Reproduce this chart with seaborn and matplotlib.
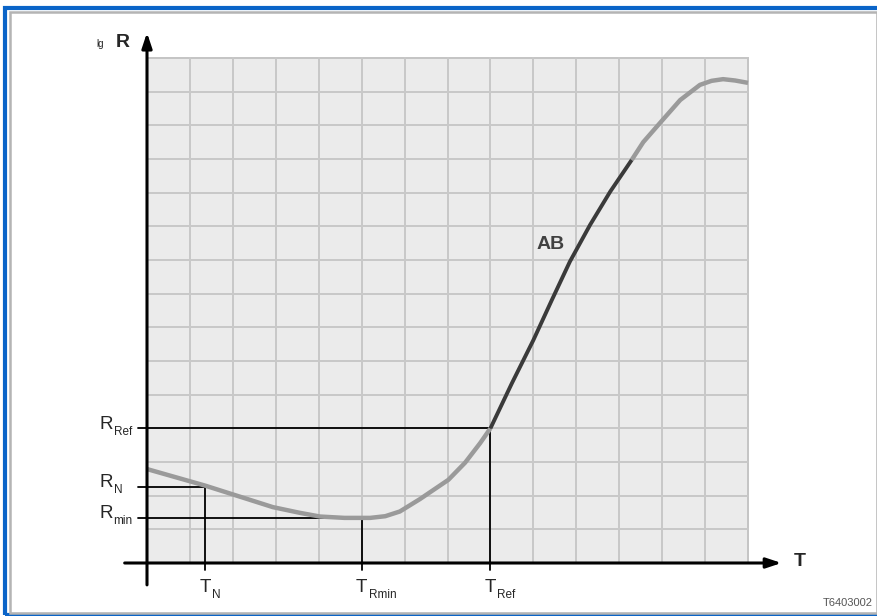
import matplotlib
matplotlib.use("Agg")
import matplotlib.pyplot as plt
import numpy as np
import pandas as pd
import seaborn as sns
from matplotlib import font_manager
from matplotlib.patches import Rectangle

# characteristic curve lg R over T (grid units)
T_low = [0.0, 1.35, 2.93, 3.56, 4.03, 4.6, 5.2, 5.55, 5.89, 6.36, 7.02, 7.41, 7.76, 8.0]
R_low = [2.79, 2.3, 1.66, 1.49, 1.38, 1.34, 1.34, 1.39, 1.53, 1.9, 2.47, 2.98, 3.56, 4.0]
T_ab = [8.0, 8.5, 9.0, 9.43, 9.85, 10.32, 10.79, 11.29]
R_ab = [4.0, 5.34, 6.62, 7.81, 8.95, 10.04, 11.03, 11.97]
T_high = [11.29, 11.56, 11.95, 12.42, 12.88, 13.15, 13.42, 13.7, 14.0]
R_high = [11.97, 12.5, 13.07, 13.75, 14.2, 14.32, 14.37, 14.33, 14.26]

# marked reference points
T_marks = [1.35, 5.0, 8.0]
R_marks = [2.26, 1.34, 4.0]
T_subs = ["N", "Rmin", "Ref"]
R_subs = ["N", "min", "Ref"]

n_cols, n_rows = 14, 15

sns.set_style("white")
names = {f.name for f in font_manager.fontManager.ttflist}
narrow = "Liberation Sans Narrow" if "Liberation Sans Narrow" in names else "Liberation Sans"
plt.rcParams["font.family"] = [narrow, "DejaVu Sans"]

fig = plt.figure(figsize=(8.78, 6.16), dpi=100)
ax = fig.add_axes([0, 0, 1, 1])

# pixel -> data mapping of the original drawing
px_x0, px_unit_x = 147, 42.93
px_y0, px_unit_y = 563, 33.67
xlim = (-px_x0 / px_unit_x, (878 - px_x0) / px_unit_x)
ylim = ((px_y0 - 616) / px_unit_y, px_y0 / px_unit_y)

# grid background
ax.add_patch(Rectangle((0, 0), n_cols, n_rows, facecolor="#ebebeb",
                       edgecolor="#c4c4c4", lw=1.4, zorder=0))
for i in range(1, n_cols):
    ax.plot([i, i], [0, n_rows], color="#c8c8c8", lw=1.4, zorder=1)
for j in range(1, n_rows):
    ax.plot([0, n_cols], [j, j], color="#c8c8c8", lw=1.4, zorder=1)

# reference lines
for t, r in zip(T_marks, R_marks):
    ax.plot([-0.2, t], [r, r], color="black", lw=1.3, zorder=2)
    ax.plot([t, t], [r, -0.2], color="black", lw=1.3, zorder=2)

# curve
low = pd.DataFrame({"T": T_low, "R": R_low})
ab = pd.DataFrame({"T": T_ab, "R": R_ab})
high = pd.DataFrame({"T": T_high, "R": R_high})
style = dict(sort=False, solid_joinstyle="round", solid_capstyle="butt")
sns.lineplot(data=low, x="T", y="R", ax=ax, color="#9a9a9a", lw=3.2, zorder=3, **style)
sns.lineplot(data=high, x="T", y="R", ax=ax, color="#9a9a9a", lw=3.2, zorder=3, **style)
sns.lineplot(data=ab, x="T", y="R", ax=ax, color="#3a3a3a", lw=2.8, zorder=4, **style)
ax.set_xlim(*xlim)
ax.set_ylim(*ylim)
ax.set_axis_off()

# axes with arrows
ax.annotate("", xy=(14.78, 0), xytext=(-0.52, 0),
            arrowprops=dict(arrowstyle="-|>,head_length=0.9,head_width=0.3",
                            color="black", lw=2.2, shrinkA=0, shrinkB=0), zorder=5)
ax.annotate("", xy=(0, 15.75), xytext=(0, -0.65),
            arrowprops=dict(arrowstyle="-|>,head_length=0.9,head_width=0.3",
                            color="black", lw=2.2, shrinkA=0, shrinkB=0), zorder=5)

# labels
ax.text(-1.17, 15.42, "lg", fontsize=7, ha="left", va="center")
ax.text(-0.72, 15.45, "R", fontsize=14, fontweight="bold", ha="left", va="center")
ax.text(15.2, 0.05, "T", fontsize=14, fontweight="bold", ha="center", va="center")
ax.text(9.4, 9.47, "AB", fontsize=14, fontweight="bold", color="#404040",
        ha="center", va="center")

for r, s in zip(R_marks, R_subs):
    ax.text(-1.1, r + 0.12, "R", fontsize=13.5, ha="left", va="center")
    ax.text(-0.78, r - 0.1, s, fontsize=8.5, ha="left", va="center")
for t, s in zip(T_marks, T_subs):
    ax.text(t, -0.74, "T", fontsize=13.5, ha="center", va="center")
    ax.text(t + 0.16, -0.94, s, fontsize=8.5, ha="left", va="center")

fig.text(873 / 878, 1 - 603 / 616, "T6403002", fontsize=8, color="#555555",
         ha="right", va="center")

# frame of the original picture
fig.patches.append(Rectangle((5.5 / 878, 1 - 615 / 616), (885 - 5.5) / 878, (615 - 7.5) / 616,
                             transform=fig.transFigure, fill=False,
                             edgecolor="#0a64c8", lw=3.0))
fig.patches.append(Rectangle((10.5 / 878, 1 - 612.5 / 616), (877 - 10.5) / 878, (612.5 - 11.5) / 616,
                             transform=fig.transFigure, fill=False,
                             edgecolor="#b4b4b4", lw=1.8))

fig.savefig("out.png", dpi=100)
